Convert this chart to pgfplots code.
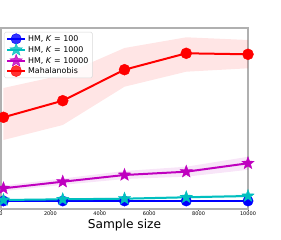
\documentclass[border=0pt]{standalone}
\usepackage{fontspec}
\setmainfont{DejaVu Sans}
\usepackage{pgfplots}
\pgfplotsset{compat=1.18}
\pgfdeclareplotmark{fstar}{%
  \pgfpathmoveto{\pgfpointpolar{90}{\pgfplotmarksize}}%
  \pgfpathlineto{\pgfpointpolar{126}{0.42\pgfplotmarksize}}%
  \pgfpathlineto{\pgfpointpolar{162}{\pgfplotmarksize}}%
  \pgfpathlineto{\pgfpointpolar{198}{0.42\pgfplotmarksize}}%
  \pgfpathlineto{\pgfpointpolar{234}{\pgfplotmarksize}}%
  \pgfpathlineto{\pgfpointpolar{270}{0.42\pgfplotmarksize}}%
  \pgfpathlineto{\pgfpointpolar{306}{\pgfplotmarksize}}%
  \pgfpathlineto{\pgfpointpolar{342}{0.42\pgfplotmarksize}}%
  \pgfpathlineto{\pgfpointpolar{18}{\pgfplotmarksize}}%
  \pgfpathlineto{\pgfpointpolar{54}{0.42\pgfplotmarksize}}%
  \pgfpathclose\pgfusepathqfillstroke}
\definecolor{mplblue}{RGB}{0,0,255}
\definecolor{mplcyan}{RGB}{0,191,191}
\definecolor{mplmag}{RGB}{191,0,191}
\definecolor{mplred}{RGB}{255,0,0}
\definecolor{spine}{RGB}{176,176,176}
\begin{document}
\begin{tikzpicture}
\begin{scope}
\clip (0,0) rectangle (281pt,240pt);
\begin{axis}[
  at={(1pt,31pt)}, anchor=south west,
  scale only axis, width=247pt, height=181pt,
  xmin=0, xmax=10000, ymin=0, ymax=181,
  axis line style={spine, line width=1.5pt},
  xtick={0,2000,4000,6000,8000,10000},
  ytick={5.6,27.3,49,70.7,92.4,114.1,135.8,157.5,179.2},
  yticklabels={},
  tick align=outside, major tick length=2pt,
  tick style={black!70, line width=0.5pt},
  xtick pos=bottom, ytick pos=left,
  scaled x ticks=false,
  xticklabel style={font=\fontsize{5}{6}\selectfont, /pgf/number format/1000 sep={}, inner sep=1pt},
  /pgf/number format/assume math mode=true,
  xlabel={Sample size},
  every axis x label/.style={at={(axis description cs:0.5,0)}, anchor=base, yshift=-20pt, font=\fontsize{12.2}{14}\selectfont},
  legend style={at={(axis description cs:0.012,0.978)}, anchor=north west,
    draw=black!15, rounded corners=1.5pt, fill=white, fill opacity=0.8, text opacity=1,
    font=\fontsize{7.9}{9}\selectfont, inner xsep=2pt, inner ysep=1pt,
    row sep=-1.2pt, cells={anchor=west}},
  legend image code/.code={\draw[#1, mark repeat=2, mark phase=2] plot coordinates {(0pt,0pt)(9pt,0pt)(18pt,0pt)};},
  clip=false,
]
% bands
\addplot[forget plot, draw=none, fill=mplred, fill opacity=0.1] coordinates {
 (100,121) (2500,134) (5000,161) (7500,171.7) (10000,169)
 (10000,140.7) (7500,137.3) (5000,122.3) (2500,84) (100,69)} -- cycle;
\addplot[forget plot, draw=none, fill=mplmag, fill opacity=0.1] coordinates {
 (100,23.5) (2500,30.5) (5000,38) (7500,42.3) (10000,52.2)
 (10000,39.2) (7500,32.3) (5000,30) (2500,24.1) (100,17.9)} -- cycle;
\addplot[forget plot, draw=none, fill=mplcyan, fill opacity=0.1] coordinates {
 (100,10) (2500,10.7) (5000,11.5) (7500,13) (10000,14.6)
 (10000,11.4) (7500,10.4) (5000,9.1) (2500,8.7) (100,8)} -- cycle;
% lines
\addplot[mplblue, line width=2pt, mark=*, mark size=5.2pt, mark options={fill=mplblue, draw=mplblue, line width=0.4pt}] coordinates {
 (100,8) (2500,8) (5000,8) (7500,8) (10000,8)};
\addlegendentry{HM, \textit{K} = 100}
\addplot[mplcyan, line width=2pt, mark=fstar, mark size=6.5pt, mark options={fill=mplcyan, draw=mplcyan, line width=0.4pt}] coordinates {
 (100,9) (2500,9.7) (5000,10.3) (7500,11.7) (10000,13)};
\addlegendentry{HM, \textit{K} = 1000}
\addplot[mplmag, line width=2pt, mark=fstar, mark size=6.5pt, mark options={fill=mplmag, draw=mplmag, line width=0.4pt}] coordinates {
 (100,20.7) (2500,27.3) (5000,34) (7500,37.3) (10000,45.7)};
\addlegendentry{HM, \textit{K} = 10000}
\addplot[mplred, line width=2pt, mark=*, mark size=5.5pt, mark options={fill=mplred, draw=mplred, line width=0.4pt}] coordinates {
 (100,91.7) (2500,108.3) (5000,139.3) (7500,155.7) (10000,154.7)};
\addlegendentry{Mahalanobis}
\end{axis}
\end{scope}
\pgfresetboundingbox
\useasboundingbox (0,0) rectangle (281pt,240pt);
\end{tikzpicture}
\end{document}
